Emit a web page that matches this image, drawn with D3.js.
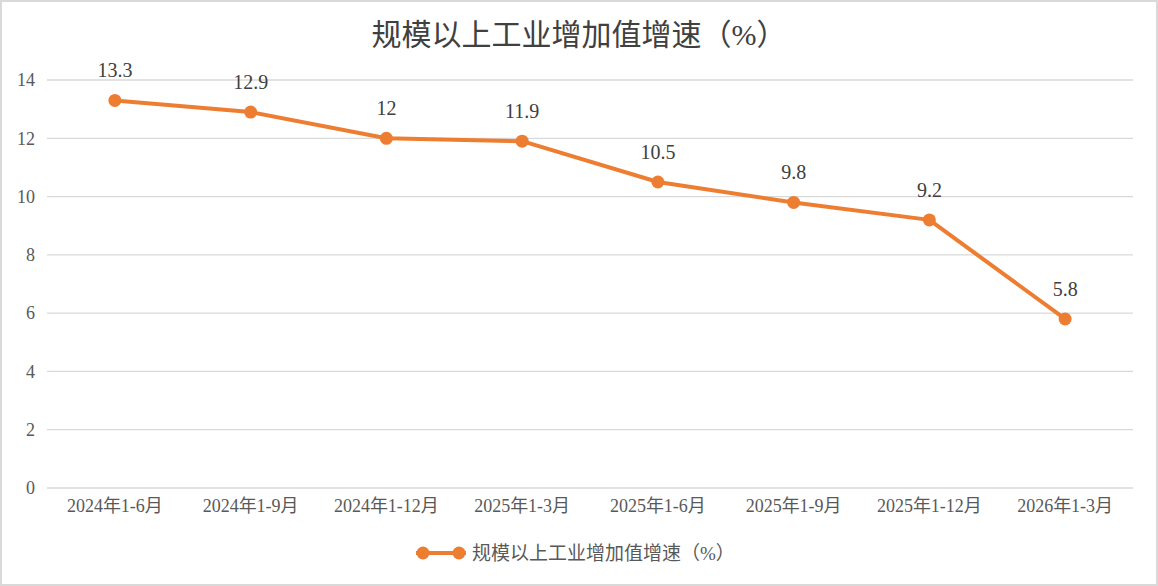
<!DOCTYPE html>
<html>
<head>
<meta charset="utf-8">
<script src="https://cdn.jsdelivr.net/npm/d3@7"></script>
<style>
  html, body { margin: 0; padding: 0; background: #fff; }
  #chart { width: 1158px; height: 586px; }
</style>
</head>
<body>
<div id="chart"></div>
<script>
// ── Data ────────────────────────────────────────────────────────────────────
const categories = ['2024年1-6月', '2024年1-9月', '2024年1-12月', '2025年1-3月',
                    '2025年1-6月', '2025年1-9月', '2025年1-12月', '2026年1-3月'];
const values = [13.3, 12.9, 12, 11.9, 10.5, 9.8, 9.2, 5.8];
const yTicks = [0, 2, 4, 6, 8, 10, 12, 14];
const seriesName = '规模以上工业增加值增速（%）';
const titleText = '规模以上工业增加值增速（%）';

// ── Layout ──────────────────────────────────────────────────────────────────
const W = 1158, H = 586;
const M = { l: 47, r: 25, t: 80, b: 98 };
const ORANGE = '#ED7D31';
const FONT = '"Liberation Serif", "Times New Roman", "Noto Sans CJK SC", serif';

const svg = d3.select('#chart').append('svg')
  .attr('width', W).attr('height', H)
  .style('display', 'block');

// Outer border
svg.append('rect')
  .attr('x', 1).attr('y', 1).attr('width', W - 2).attr('height', H - 2)
  .attr('fill', '#fff').attr('stroke', '#d9d9d9').attr('stroke-width', 2);

const x = d3.scaleBand().domain(categories).range([M.l, W - M.r]);
const y = d3.scaleLinear().domain([0, 14]).range([H - M.b, M.t]);

// Gridlines
svg.append('g').selectAll('line').data(yTicks).join('line')
  .attr('x1', M.l).attr('x2', W - M.r)
  .attr('y1', d => y(d)).attr('y2', d => y(d))
  .attr('stroke', '#d9d9d9').attr('stroke-width', 1.3);

// Y axis labels
const yAxis = svg.append('g')
  .attr('transform', `translate(${M.l}, 0)`)
  .call(d3.axisLeft(y).tickValues(yTicks).tickSize(0).tickPadding(12));
yAxis.select('.domain').remove();
yAxis.selectAll('text')
  .attr('font-size', 18).attr('fill', '#595959').attr('font-family', FONT);

// X axis labels
const xAxis = svg.append('g')
  .attr('transform', `translate(0, ${y(0)})`)
  .call(d3.axisBottom(x).tickSize(0).tickPadding(11));
xAxis.select('.domain').remove();
xAxis.selectAll('text')
  .attr('font-size', 18).attr('fill', '#595959').attr('font-family', FONT);

// Title
svg.append('text')
  .attr('x', W / 2).attr('y', 45)
  .attr('text-anchor', 'middle').attr('font-size', 30)
  .attr('fill', '#404040').attr('font-family', FONT)
  .text(titleText);

// Line
const line = d3.line()
  .x((d, i) => x(categories[i]) + x.bandwidth() / 2)
  .y(d => y(d));

svg.append('path')
  .datum(values)
  .attr('d', line)
  .attr('fill', 'none').attr('stroke', ORANGE)
  .attr('stroke-width', 4).attr('stroke-linejoin', 'round');

svg.append('g').selectAll('circle').data(values).join('circle')
  .attr('cx', (d, i) => x(categories[i]) + x.bandwidth() / 2)
  .attr('cy', d => y(d))
  .attr('r', 6.5).attr('fill', ORANGE);

// Data labels
svg.append('g').selectAll('text').data(values).join('text')
  .attr('x', (d, i) => x(categories[i]) + x.bandwidth() / 2)
  .attr('y', d => y(d) - 23)
  .attr('text-anchor', 'middle').attr('font-size', 20)
  .attr('fill', '#404040').attr('font-family', FONT)
  .text(d => d);

// Legend
const legX = 416, legY = 553;
svg.append('line')
  .attr('x1', legX).attr('x2', legX + 50)
  .attr('y1', legY).attr('y2', legY)
  .attr('stroke', ORANGE).attr('stroke-width', 4);
[legX + 7, legX + 43].forEach(cx => {
  svg.append('circle').attr('cx', cx).attr('cy', legY).attr('r', 6.5).attr('fill', ORANGE);
});
svg.append('text')
  .attr('x', legX + 56).attr('y', legY)
  .attr('dominant-baseline', 'central')
  .attr('font-size', 19).attr('fill', '#595959').attr('font-family', FONT)
  .text(seriesName);
</script>
</body>
</html>
